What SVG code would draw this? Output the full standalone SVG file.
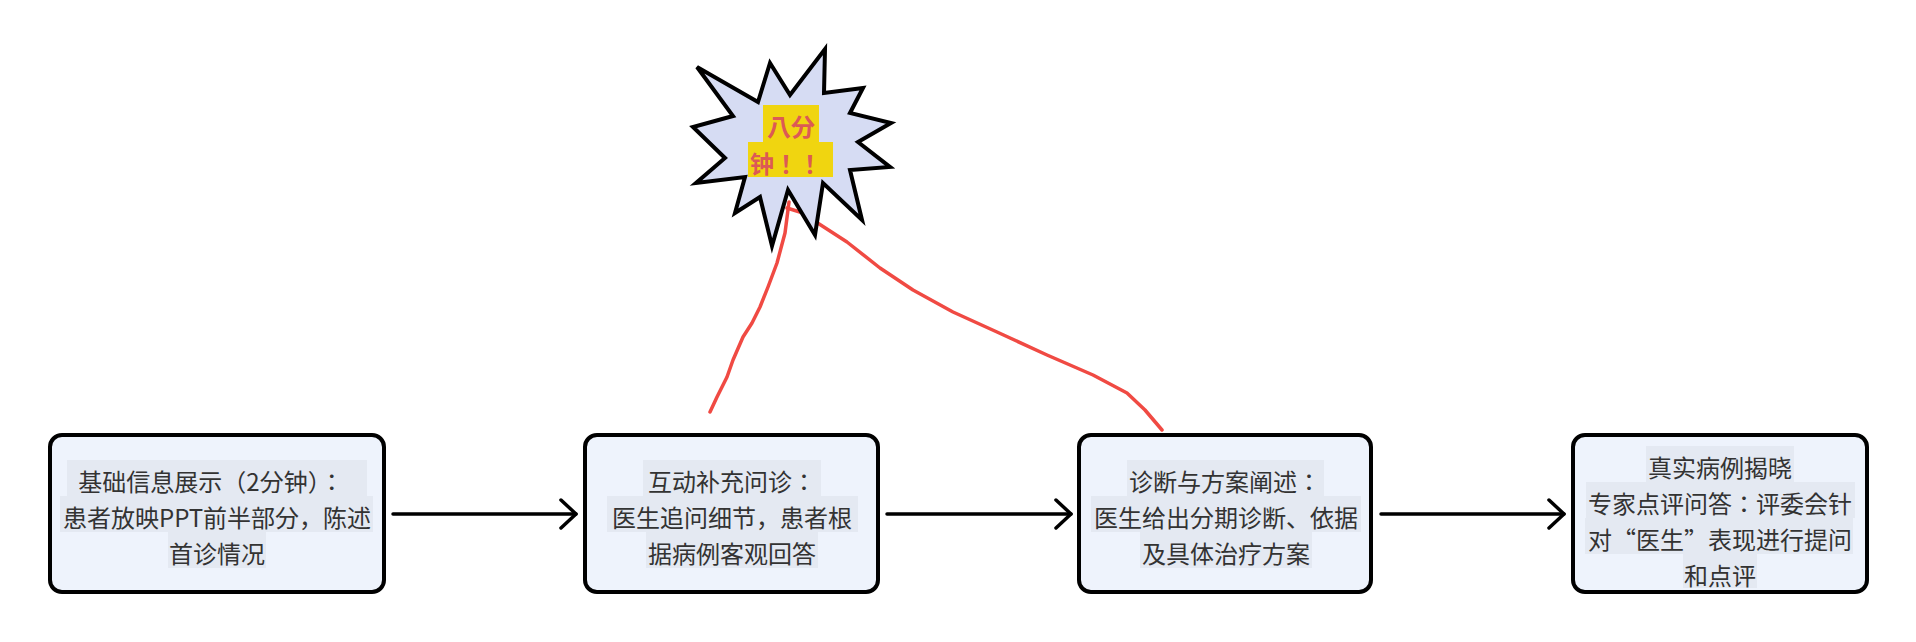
<svg xmlns="http://www.w3.org/2000/svg" width="1916" height="642" viewBox="0 0 1916 642">
  <style>
    .box { fill: #eef3fc; stroke: #000; stroke-width: 4; }
    .tbg { fill: #e4e9f2; }
    .t { font-family: "Noto Sans CJK JP", "Noto Sans CJK SC", "Noto Sans", sans-serif; font-size: 24px; fill: #333; text-anchor: middle; dominant-baseline: central; }
    .sc { font-family: "Noto Sans CJK SC", "Noto Sans", sans-serif; }
    .conn { fill: none; stroke: #000; stroke-width: 3.5; stroke-linecap: round; stroke-linejoin: round; }
    .red { fill: none; stroke: #f04a43; stroke-width: 3.5; stroke-linecap: round; stroke-linejoin: round; }
    .burst { fill: #d6dcf3; stroke: #000; stroke-width: 4; stroke-linejoin: miter; }
    .ybg { fill: #f0d510; }
    .bt { font-family: "Noto Sans CJK JP", "Noto Sans CJK SC", "Noto Sans", sans-serif; font-size: 24px; font-weight: bold; fill: #dc5a55; text-anchor: middle; dominant-baseline: central; }
  </style>
  <defs>
    <marker id="arr" viewBox="0 0 20 32" refX="17" refY="16" markerWidth="20" markerHeight="32" markerUnits="userSpaceOnUse" orient="auto">
      <path d="M2,2 L17,16 L2,30" fill="none" stroke="#000" stroke-width="3.5" stroke-linecap="round" stroke-linejoin="round"/>
    </marker>
  </defs>

  <g id="connectors">
    <line class="conn" x1="393" y1="514" x2="576" y2="514" marker-end="url(#arr)"/>
    <line class="conn" x1="887" y1="514" x2="1071" y2="514" marker-end="url(#arr)"/>
    <line class="conn" x1="1381" y1="514" x2="1564" y2="514" marker-end="url(#arr)"/>
    <path class="red" d="M789,202 L785,233 L777,263 L768,287 L760,307 L752,323 L743,337 L733,360 L727,377 L717,397 L710,412"/>
    <path class="red" d="M787,208 L803,213 L813,220 L847,242 L880,268 L913,290 L953,312 L997,332 L1047,355 L1093,375 L1127,393 L1145,410 L1162,430"/>
  </g>

  <g id="node-burst">
    <polygon class="burst" points="697,67 758,102 770,63 790,95 825,49 824,93 863,88 850,113 891,123 858,142 890,167 850,170 862,220 823,183 815,235 788,190 772,246 760,197 735,213 745,177 696,183 725,158 693,127 733,116"/>
    <rect class="ybg" x="763" y="105" width="56" height="38"/>
    <rect class="ybg" x="748" y="142" width="85" height="35"/>
    <text class="bt" x="791" y="125">八分</text>
    <text class="bt" x="786" y="162">钟！！</text>
  </g>

  <g id="node-1">
    <rect class="box" x="50" y="435" width="334" height="157" rx="12"/>
    <rect class="tbg" x="67" y="460" width="300" height="36"/>
    <rect class="tbg" x="60" y="496" width="313" height="36"/>
    <rect class="tbg" x="168" y="532" width="98" height="36"/>
    <text class="t" x="211" y="480">基础信息展示（2分钟）：</text>
    <text class="t" x="217" y="516">患者放映PPT前半部分，陈述</text>
    <text class="t" x="217" y="552">首诊情况</text>
  </g>

  <g id="node-2">
    <rect class="box" x="585" y="435" width="293" height="157" rx="12"/>
    <rect class="tbg" x="643" y="460" width="178" height="36"/>
    <rect class="tbg" x="607" y="496" width="251" height="36"/>
    <rect class="tbg" x="646" y="532" width="172" height="36"/>
    <text class="t" x="732" y="480">互动补充问诊：</text>
    <text class="t" x="732" y="516">医生追问细节，患者根</text>
    <text class="t" x="732" y="552">据病例客观回答</text>
  </g>

  <g id="node-3">
    <rect class="box" x="1079" y="435" width="292" height="157" rx="12"/>
    <rect class="tbg" x="1127" y="460" width="197" height="36"/>
    <rect class="tbg" x="1091" y="496" width="270" height="36"/>
    <rect class="tbg" x="1140" y="532" width="172" height="36"/>
    <text class="t" x="1225" y="480">诊断与方案阐述：</text>
    <text class="t" x="1226" y="516">医生给出分期诊断、依据</text>
    <text class="t" x="1226" y="552">及具体治疗方案</text>
  </g>

  <g id="node-4">
    <rect class="box" x="1573" y="435" width="294" height="157" rx="12"/>
    <rect class="tbg" x="1646" y="446" width="148" height="36"/>
    <rect class="tbg" x="1586" y="482" width="269" height="36"/>
    <rect class="tbg" x="1585" y="518" width="268" height="36"/>
    <rect class="tbg" x="1683" y="554" width="74" height="34"/>
    <text class="t" x="1720" y="466">真实病例揭晓</text>
    <text class="t" x="1720" y="502">专家点评问答：评委会针</text>
    <text class="t sc" x="1720" y="538">对“医生”表现进行提问</text>
    <text class="t" x="1720" y="574">和点评</text>
  </g>
</svg>
